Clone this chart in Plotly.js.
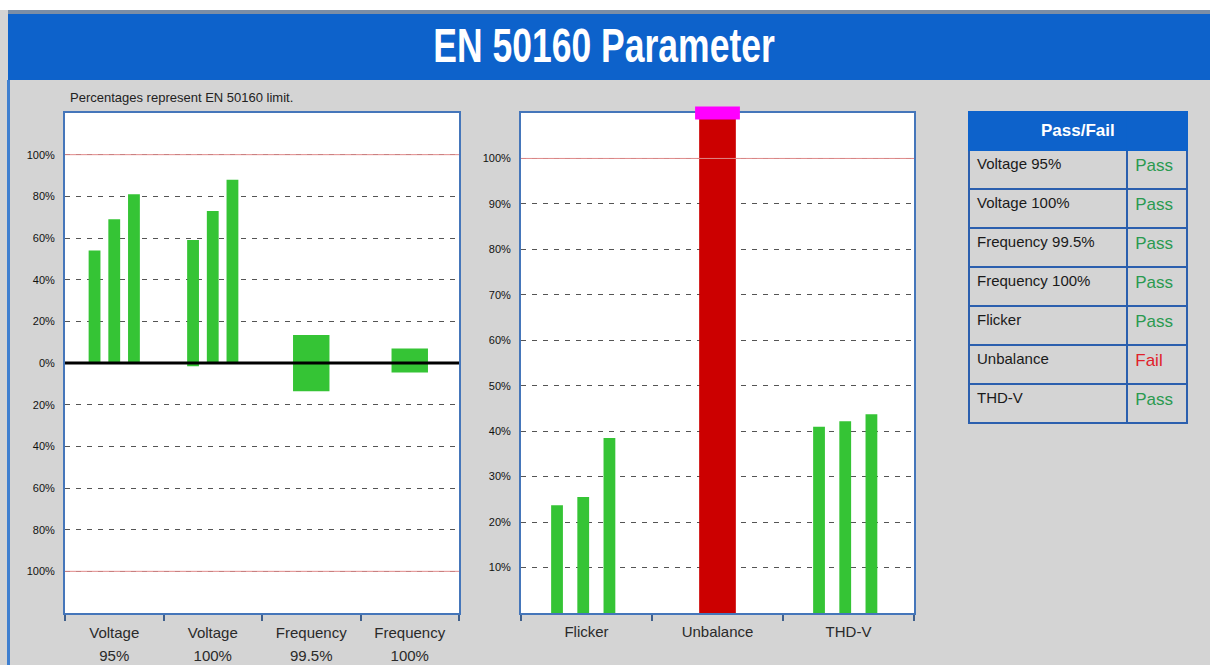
<!DOCTYPE html>
<html><head><meta charset="utf-8">
<script src="https://cdn.plot.ly/plotly-3.0.1.min.js"></script>
<style>html,body{margin:0;padding:0;background:#d4d4d4;}#chart{width:1210px;height:665px;}</style>
</head><body><div id="chart"></div>
<script>
// ---------------- data ----------------
const leftCatLine1 = ['Voltage', 'Voltage', 'Frequency', 'Frequency'];
const leftCatLine2 = ['95%', '100%', '99.5%', '100%'];
const phaseNames = ['L1', 'L2', 'L3'];
const voltage95Max = [54, 69, 81];
const voltage95Min = [0, 0, 0];
const voltage100Max = [59, 73, 88];
const voltage100Min = [-1.5, 0, 0];
const frequencyMax = [13.5, 7];
const frequencyMin = [-13.5, -4.5];
const leftTickVals = [-100, -80, -60, -40, -20, 0, 20, 40, 60, 80, 100];
const leftTickText = ['100%', '80%', '60%', '40%', '20%', '0%', '20%', '40%', '60%', '80%', '100%'];

const rightCats = ['Flicker', 'Unbalance', 'THD-V'];
const flickerValues = [23.7, 25.5, 38.5];
const thdValues = [41, 42.2, 43.7];
const unbalanceValue = 125; // off-scale (above chart top)
const rightTickVals = [10, 20, 30, 40, 50, 60, 70, 80, 90, 100];
const rightTickText = ['10%', '20%', '30%', '40%', '50%', '60%', '70%', '80%', '90%', '100%'];
const limitValue = 100;

const tableParams = ['Voltage 95%', 'Voltage 100%', 'Frequency 99.5%', 'Frequency 100%', 'Flicker', 'Unbalance', 'THD-V'];
const tableResults = ['Pass', 'Pass', 'Pass', 'Pass', 'Pass', 'Fail', 'Pass'];

// ---------------- style ----------------
const W = 1210, H = 665;
const px = v => v / W;
const py = v => 1 - v / H;
const GREEN = '#35c435', RED = '#cc0000', MAGENTA = '#ff00ff';
const FRAME = '#4576ba', HEADER = '#0d62cb', TABLE_LINE = '#2b5fae', BG = '#d4d4d4';
const FONT = 'Liberation Sans, Arial, sans-serif';
const GRID_DASH = '5px,6px';

const leftIdx = leftCatLine1.map((_, i) => i);
const rightIdx = rightCats.map((_, i) => i);
const leftRange = [-0.5, leftCatLine1.length - 0.5];
const rightRange = [-0.5, rightCats.length - 0.5];
const rightMax = 110;

const traces = [];
// left: voltage phases
phaseNames.forEach((name, p) => {
  traces.push({
    type: 'bar', name: 'Voltage ' + name, x: [0, 1],
    base: [voltage95Min[p], voltage100Min[p]],
    y: [voltage95Max[p] - voltage95Min[p], voltage100Max[p] - voltage100Min[p]],
    width: 0.12, offset: -0.06 + (p - 1) * 0.2,
    marker: { color: GREEN }, xaxis: 'x', yaxis: 'y', hoverinfo: 'skip'
  });
});
// left: frequency ranges (on overlay axis x3)
traces.push({
  type: 'bar', name: 'Frequency', x: [2, 3], base: frequencyMin,
  y: frequencyMax.map((m, i) => m - frequencyMin[i]),
  width: 0.37, offset: -0.185, marker: { color: GREEN }, xaxis: 'x3', yaxis: 'y', hoverinfo: 'skip'
});
[limitValue, -limitValue].forEach(v => traces.push({
  type: 'scatter', mode: 'lines', x: leftRange, y: [v, v], line: { color: '#e08a8a', width: 1 },
  xaxis: 'x3', yaxis: 'y', hoverinfo: 'skip'
}));
traces.push({
  type: 'scatter', mode: 'lines', x: leftRange, y: [0, 0], line: { color: '#000', width: 3 },
  xaxis: 'x3', yaxis: 'y', hoverinfo: 'skip'
});

// right
traces.push({
  type: 'scatter', mode: 'lines', x: rightRange, y: [limitValue, limitValue], line: { color: '#e08a8a', width: 1 },
  xaxis: 'x2', yaxis: 'y2', hoverinfo: 'skip'
});
phaseNames.forEach((name, p) => {
  traces.push({
    type: 'bar', name: name, x: [0, 2], y: [flickerValues[p], thdValues[p]],
    width: 0.09, offset: -0.045 + (p - 1) * 0.2 - 0.025,
    marker: { color: GREEN }, xaxis: 'x2', yaxis: 'y2', hoverinfo: 'skip'
  });
});
traces.push({
  type: 'bar', name: 'Unbalance', x: [1], y: [unbalanceValue], width: 0.28, offset: -0.14,
  marker: { color: RED }, xaxis: 'x2', yaxis: 'y2', hoverinfo: 'skip'
});
if (unbalanceValue > rightMax) {
  traces.push({
    type: 'scatter', mode: 'markers', x: [1], y: [rightMax], cliponaxis: false,
    marker: { symbol: 'line-ew', size: 32, color: MAGENTA, line: { color: MAGENTA, width: 13 } },
    xaxis: 'x2', yaxis: 'y2', hoverinfo: 'skip'
  });
}

// table
traces.push({
  type: 'table',
  domain: { x: [px(969), px(1188)], y: [py(450), py(112)] },
  columnwidth: [159, 60],
  header: { values: [[''], ['']], height: 38, fill: { color: HEADER }, line: { color: HEADER, width: 2 } },
  cells: {
    values: [tableParams, tableResults], height: 39,
    fill: { color: BG }, line: { color: TABLE_LINE, width: 2 }, align: 'left',
    font: { family: FONT, size: [15, 17], color: ['#1a1a1a', tableResults.map(r => r === 'Pass' ? '#2a9a50' : '#e0202a')] }
  }
});

const tickFontY = { family: FONT, size: 11, color: '#111' };
const tickFontX = { family: FONT, size: 15, color: '#2a2a2a' };
const yCommon = {
  tickmode: 'array', ticks: '', ticklabelstandoff: 6, showline: true, mirror: true,
  linecolor: FRAME, linewidth: 2, showgrid: true, gridcolor: '#555', griddash: GRID_DASH, gridwidth: 1,
  zeroline: false, tickfont: tickFontY, fixedrange: true
};
const minorTicks = vals => ({ tickmode: 'array', tickvals: vals, ticks: 'outside', ticklen: 6, tickwidth: 2, tickcolor: '#3f5f8c', showgrid: false });

const layout = {
  width: W, height: H, margin: { l: 0, r: 0, t: 0, b: 0 }, showlegend: false,
  paper_bgcolor: BG, plot_bgcolor: '#ffffff',
  title: { text: 'EN 50160 Parameter', xref: 'container', yref: 'container', x: px(604), xanchor: 'center',
    y: py(45), yanchor: 'middle', font: { family: FONT, size: 48, color: '#ffffff', weight: 'bold' } },
  xaxis: {
    domain: [px(65), px(459)], range: leftRange, anchor: 'y', tickmode: 'array', tickvals: leftIdx,
    ticktext: leftCatLine1, ticks: '', ticklabelstandoff: 5, showline: true, mirror: true, linecolor: FRAME, linewidth: 2,
    showgrid: false, zeroline: false, tickfont: tickFontX, fixedrange: true,
    minor: minorTicks(leftIdx.map(i => i - 0.5).concat([leftIdx.length - 0.5]))
  },
  xaxis3: {
    overlaying: 'x', anchor: 'y', side: 'bottom', range: leftRange, tickmode: 'array', tickvals: leftIdx,
    ticktext: leftCatLine2, ticks: '', ticklabelstandoff: 32, showline: false, showgrid: false,
    zeroline: false, tickfont: tickFontX, fixedrange: true
  },
  yaxis: Object.assign({}, yCommon, {
    domain: [py(613), py(113)], range: [-120, 120], anchor: 'x', tickvals: leftTickVals, ticktext: leftTickText
  }),
  xaxis2: {
    domain: [px(521), px(914)], range: rightRange, anchor: 'y2', tickmode: 'array', tickvals: rightIdx,
    ticktext: rightCats, ticks: '', ticklabelstandoff: 4, showline: true, mirror: true, linecolor: FRAME, linewidth: 2,
    showgrid: false, zeroline: false, tickfont: tickFontX, fixedrange: true, layer: 'below traces',
    minor: minorTicks(rightIdx.map(i => i - 0.5).concat([rightIdx.length - 0.5]))
  },
  yaxis2: Object.assign({}, yCommon, {
    domain: [py(613), py(113)], range: [0, rightMax], anchor: 'x2', tickvals: rightTickVals,
    ticktext: rightTickText, layer: 'below traces'
  }),
  shapes: [
    { type: 'rect', xref: 'paper', yref: 'paper', x0: 0, x1: 1, y0: py(10), y1: 1, fillcolor: '#ffffff', line: { width: 0 }, layer: 'below' },
    { type: 'rect', xref: 'paper', yref: 'paper', x0: px(8), x1: 1, y0: py(14), y1: py(10), fillcolor: '#7b8ea6', line: { width: 0 }, layer: 'below' },
    { type: 'rect', xref: 'paper', yref: 'paper', x0: px(8), x1: 1, y0: py(80), y1: py(14), fillcolor: HEADER, line: { width: 0 }, layer: 'below' },
    { type: 'rect', xref: 'paper', yref: 'paper', x0: px(7), x1: px(10), y0: 0, y1: py(80), fillcolor: '#3f7fcf', line: { width: 0 }, layer: 'below' }
  ],
  annotations: [
    { text: 'Percentages represent EN 50160 limit.', xref: 'paper', yref: 'paper', x: px(68), y: py(97),
      xanchor: 'left', yanchor: 'middle', showarrow: false, font: { family: FONT, size: 13, color: '#222' } },
    { text: '<b>Pass/Fail</b>', xref: 'paper', yref: 'paper', x: px(1078), y: py(131),
      xanchor: 'center', yanchor: 'middle', showarrow: false, font: { family: FONT, size: 17, color: '#ffffff' } }
  ]
};

Plotly.newPlot('chart', traces, layout, { displayModeBar: false, staticPlot: true }).then(gd => {
  // condensed look of the original header title
  const t = gd.querySelector('.g-gtitle text');
  if (t) {
    const b = t.getBBox();
    const cx = b.x + b.width / 2;
    const prev = t.getAttribute('transform') || '';
    t.setAttribute('transform', `translate(${cx},0) scale(0.74,1) translate(${-cx},0) ${prev}`);
  }
});
</script>
</body></html>
